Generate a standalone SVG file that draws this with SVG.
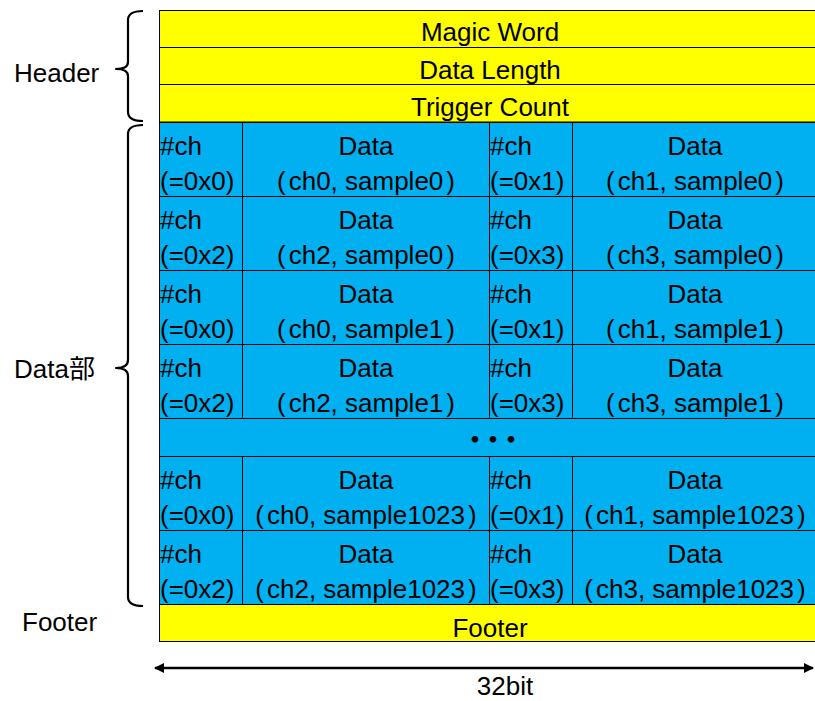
<svg xmlns="http://www.w3.org/2000/svg" width="815" height="701" viewBox="0 0 815 701">
<defs>
<style>
text{font-family:"Liberation Sans","Noto Sans CJK JP",Arial,sans-serif;font-size:26px;fill:#000}
.m{text-anchor:middle}
.y{fill:#FFFF00;stroke:#000;stroke-width:1}
.b{fill:#00B0F0;stroke:#000;stroke-width:1}
.br{fill:none;stroke:#000;stroke-width:2.2;stroke-linejoin:round}
.ln{stroke:#000;stroke-width:1}
</style>
<marker id="ah" viewBox="0 0 10 10" refX="9" refY="5" markerWidth="4" markerHeight="4" orient="auto-start-reverse">
<path d="M0,0 L10,5 L0,10 z" fill="#000"/>
</marker>
</defs>
<rect width="815" height="701" fill="#fff"/>

<g id="header">
<rect class="y" x="159.5" y="10.5" width="660" height="37"/>
<text class="m" x="490" y="41">Magic Word</text>
<rect class="y" x="159.5" y="47.5" width="660" height="37"/>
<text class="m" x="490" y="79">Data Length</text>
<rect class="y" x="159.5" y="84.5" width="660" height="37.5"/>
<text class="m" x="490" y="116">Trigger Count</text>
</g>

<g id="data">
<rect class="b" x="159.5" y="122.5" width="660" height="482"/>
<line class="ln" x1="159" y1="196.5" x2="815" y2="196.5"/>
<line class="ln" x1="159" y1="270.5" x2="815" y2="270.5"/>
<line class="ln" x1="159" y1="344.5" x2="815" y2="344.5"/>
<line class="ln" x1="159" y1="418.5" x2="815" y2="418.5"/>
<line class="ln" x1="159" y1="456.5" x2="815" y2="456.5"/>
<line class="ln" x1="159" y1="530.5" x2="815" y2="530.5"/>
<line class="ln" x1="242.5" y1="122" x2="242.5" y2="418"/>
<line class="ln" x1="489.5" y1="122" x2="489.5" y2="418"/>
<line class="ln" x1="572.5" y1="122" x2="572.5" y2="418"/>
<line class="ln" x1="242.5" y1="456" x2="242.5" y2="604"/>
<line class="ln" x1="489.5" y1="456" x2="489.5" y2="604"/>
<line class="ln" x1="572.5" y1="456" x2="572.5" y2="604"/>

<g id="r1">
<text x="160" y="155">#ch</text><text x="160" y="190">(=0x0)</text>
<text class="m" x="366" y="155">Data</text><text class="m" x="366" y="190">(<tspan dx="3">ch0, sample0</tspan><tspan dx="3">)</tspan></text>
<text x="490" y="155">#ch</text><text x="490" y="190">(=0x1)</text>
<text class="m" x="695" y="155">Data</text><text class="m" x="695" y="190">(<tspan dx="3">ch1, sample0</tspan><tspan dx="3">)</tspan></text>
</g>
<g id="r2">
<text x="160" y="229">#ch</text><text x="160" y="264">(=0x2)</text>
<text class="m" x="366" y="229">Data</text><text class="m" x="366" y="264">(<tspan dx="3">ch2, sample0</tspan><tspan dx="3">)</tspan></text>
<text x="490" y="229">#ch</text><text x="490" y="264">(=0x3)</text>
<text class="m" x="695" y="229">Data</text><text class="m" x="695" y="264">(<tspan dx="3">ch3, sample0</tspan><tspan dx="3">)</tspan></text>
</g>
<g id="r3">
<text x="160" y="303">#ch</text><text x="160" y="338">(=0x0)</text>
<text class="m" x="366" y="303">Data</text><text class="m" x="366" y="338">(<tspan dx="3">ch0, sample1</tspan><tspan dx="3">)</tspan></text>
<text x="490" y="303">#ch</text><text x="490" y="338">(=0x1)</text>
<text class="m" x="695" y="303">Data</text><text class="m" x="695" y="338">(<tspan dx="3">ch1, sample1</tspan><tspan dx="3">)</tspan></text>
</g>
<g id="r4">
<text x="160" y="377">#ch</text><text x="160" y="412">(=0x2)</text>
<text class="m" x="366" y="377">Data</text><text class="m" x="366" y="412">(<tspan dx="3">ch2, sample1</tspan><tspan dx="3">)</tspan></text>
<text x="490" y="377">#ch</text><text x="490" y="412">(=0x3)</text>
<text class="m" x="695" y="377">Data</text><text class="m" x="695" y="412">(<tspan dx="3">ch3, sample1</tspan><tspan dx="3">)</tspan></text>
</g>
<g id="dots">
<text class="m" x="489" y="449" font-weight="bold" letter-spacing="-8">・・・</text>
</g>
<g id="r5">
<text x="160" y="489">#ch</text><text x="160" y="524">(=0x0)</text>
<text class="m" x="366" y="489">Data</text><text class="m" x="366" y="524">(<tspan dx="3">ch0, sample1023</tspan><tspan dx="3">)</tspan></text>
<text x="490" y="489">#ch</text><text x="490" y="524">(=0x1)</text>
<text class="m" x="695" y="489">Data</text><text class="m" x="695" y="524">(<tspan dx="3">ch1, sample1023</tspan><tspan dx="3">)</tspan></text>
</g>
<g id="r6">
<text x="160" y="563">#ch</text><text x="160" y="598">(=0x2)</text>
<text class="m" x="366" y="563">Data</text><text class="m" x="366" y="598">(<tspan dx="3">ch2, sample1023</tspan><tspan dx="3">)</tspan></text>
<text x="490" y="563">#ch</text><text x="490" y="598">(=0x3)</text>
<text class="m" x="695" y="563">Data</text><text class="m" x="695" y="598">(<tspan dx="3">ch3, sample1023</tspan><tspan dx="3">)</tspan></text>
</g>
</g>

<g id="footer">
<rect class="y" x="159.5" y="604.5" width="660" height="37"/>
<text class="m" x="490" y="637">Footer</text>
</g>

<g id="labels">
<text x="14" y="82">Header</text>
<text x="14" y="378">Data部</text>
<text x="22" y="631">Footer</text>
<text class="m" x="505" y="695">32bit</text>
</g>

<g id="connectors">
<path class="br" d="M143,11 Q128,11 128,20 L128,62 Q128,69 116,69 Q128,69 128,76 L128,112 Q128,121 143,121"/>
<path class="br" d="M143,125 Q128,125 128,134 L128,360 Q128,368 116,368 Q128,368 128,376 L128,597 Q128,606 143,606"/>
<line x1="155" y1="668" x2="813" y2="668" stroke="#000" stroke-width="2.5" marker-start="url(#ah)" marker-end="url(#ah)"/>
</g>
</svg>
